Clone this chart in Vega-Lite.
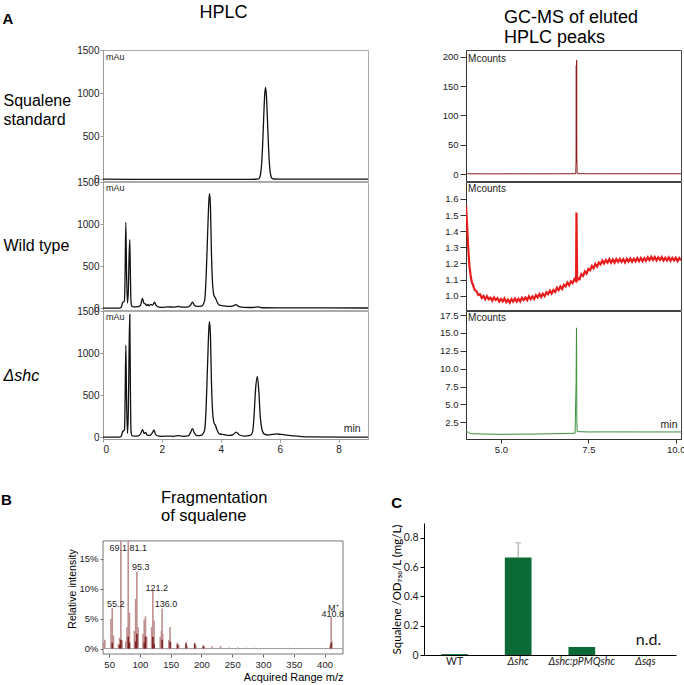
{
  "$schema": "https://vega.github.io/schema/vega-lite/v6.json",
  "padding": {"left": 0, "top": 3, "right": 2, "bottom": 2},
  "background": "white",
  "columns": 1,
  "align": "none",
  "spacing": 34,
  "datasets": {
    "std": [{"t":0,"v":0},{"t":1,"v":-2},{"t":2,"v":-2},{"t":3,"v":-3},{"t":4,"v":-3},{"t":5,"v":-2},{"t":5.26,"v":-1},{"t":5.3,"v":8},{"t":5.34,"v":39},{"t":5.38,"v":144},{"t":5.42,"v":384},{"t":5.46,"v":737},{"t":5.49,"v":972},{"t":5.52,"v":1065},{"t":5.55,"v":972},{"t":5.58,"v":737},{"t":5.62,"v":384},{"t":5.66,"v":144},{"t":5.7,"v":39},{"t":5.74,"v":8},{"t":5.78,"v":1},{"t":6,"v":0},{"t":7,"v":0},{"t":9,"v":0}],
    "wt": [{"t":0,"v":0},{"t":0.55,"v":0},{"t":0.62,"v":10},{"t":0.66,"v":60},{"t":0.7,"v":80},{"t":0.73,"v":85},{"t":0.75,"v":400},{"t":0.775,"v":1020},{"t":0.8,"v":420},{"t":0.83,"v":60},{"t":0.86,"v":200},{"t":0.885,"v":600},{"t":0.91,"v":815},{"t":0.93,"v":400},{"t":0.95,"v":80},{"t":0.98,"v":20},{"t":1.05,"v":15},{"t":1.2,"v":18},{"t":1.28,"v":40},{"t":1.34,"v":115},{"t":1.39,"v":60},{"t":1.44,"v":50},{"t":1.48,"v":30},{"t":1.52,"v":45},{"t":1.56,"v":28},{"t":1.62,"v":45},{"t":1.68,"v":35},{"t":1.75,"v":70},{"t":1.8,"v":35},{"t":1.9,"v":12},{"t":2,"v":10},{"t":2.2,"v":15},{"t":2.4,"v":12},{"t":2.55,"v":20},{"t":2.7,"v":12},{"t":2.9,"v":15},{"t":2.98,"v":40},{"t":3.04,"v":70},{"t":3.1,"v":35},{"t":3.2,"v":20},{"t":3.35,"v":25},{"t":3.45,"v":90},{"t":3.5,"v":350},{"t":3.55,"v":850},{"t":3.6,"v":1300},{"t":3.62,"v":1360},{"t":3.65,"v":1200},{"t":3.68,"v":700},{"t":3.72,"v":300},{"t":3.77,"v":150},{"t":3.82,"v":120},{"t":3.88,"v":70},{"t":3.95,"v":35},{"t":4.1,"v":28},{"t":4.3,"v":20},{"t":4.4,"v":25},{"t":4.52,"v":42},{"t":4.6,"v":22},{"t":4.8,"v":10},{"t":5.1,"v":8},{"t":5.27,"v":15},{"t":5.4,"v":5},{"t":6,"v":3},{"t":9,"v":2}],
    "shc": [{"t":0,"v":0},{"t":0.55,"v":0},{"t":0.62,"v":10},{"t":0.66,"v":60},{"t":0.7,"v":75},{"t":0.73,"v":85},{"t":0.75,"v":420},{"t":0.775,"v":1094},{"t":0.8,"v":450},{"t":0.83,"v":45},{"t":0.86,"v":300},{"t":0.885,"v":1000},{"t":0.91,"v":1459},{"t":0.93,"v":600},{"t":0.95,"v":80},{"t":0.98,"v":20},{"t":1.05,"v":12},{"t":1.2,"v":15},{"t":1.28,"v":40},{"t":1.34,"v":89},{"t":1.4,"v":45},{"t":1.45,"v":55},{"t":1.5,"v":25},{"t":1.6,"v":20},{"t":1.68,"v":55},{"t":1.73,"v":85},{"t":1.79,"v":30},{"t":1.9,"v":12},{"t":2,"v":10},{"t":2.2,"v":12},{"t":2.4,"v":10},{"t":2.58,"v":18},{"t":2.7,"v":10},{"t":2.9,"v":15},{"t":2.98,"v":60},{"t":3.04,"v":102},{"t":3.1,"v":50},{"t":3.2,"v":18},{"t":3.35,"v":25},{"t":3.45,"v":80},{"t":3.5,"v":330},{"t":3.55,"v":850},{"t":3.6,"v":1320},{"t":3.62,"v":1374},{"t":3.65,"v":1200},{"t":3.68,"v":700},{"t":3.72,"v":320},{"t":3.77,"v":170},{"t":3.82,"v":140},{"t":3.88,"v":80},{"t":3.95,"v":40},{"t":4.1,"v":30},{"t":4.3,"v":20},{"t":4.42,"v":30},{"t":4.53,"v":60},{"t":4.62,"v":28},{"t":4.8,"v":12},{"t":5,"v":20},{"t":5.08,"v":60},{"t":5.13,"v":250},{"t":5.18,"v":560},{"t":5.24,"v":721},{"t":5.29,"v":560},{"t":5.34,"v":250},{"t":5.4,"v":90},{"t":5.48,"v":35},{"t":5.6,"v":25},{"t":5.75,"v":32},{"t":5.9,"v":38},{"t":6.05,"v":32},{"t":6.3,"v":22},{"t":6.6,"v":12},{"t":7,"v":3},{"t":9,"v":0}],
    "gc1": [{"t":4.0,"v":1.5},{"t":4.05,"v":0.6},{"t":4.1,"v":0.4},{"t":4.5,"v":0.3},{"t":5.0,"v":0.3},{"t":5.5,"v":0.4},{"t":6.0,"v":0.3},{"t":6.5,"v":0.4},{"t":7.0,"v":0.5},{"t":7.14,"v":0.6},{"t":7.15,"v":25},{"t":7.155,"v":185},{"t":7.16,"v":20},{"t":7.165,"v":194},{"t":7.17,"v":30},{"t":7.18,"v":1.5},{"t":7.2,"v":0.6},{"t":7.5,"v":0.5},{"t":8.0,"v":0.5},{"t":9.0,"v":0.5},{"t":10.15,"v":0.5}],
    "gc2": [{"t":4.0,"v":1.56},{"t":4.02,"v":1.48},{"t":4.04,"v":1.4},{"t":4.06,"v":1.31},{"t":4.08,"v":1.24},{"t":4.1,"v":1.18},{"t":4.13,"v":1.13},{"t":4.16,"v":1.09},{"t":4.2,"v":1.065},{"t":4.25,"v":1.035},{"t":4.3,"v":1.028},{"t":4.35,"v":1.005},{"t":4.4,"v":1.008},{"t":4.45,"v":0.985},{"t":4.5,"v":0.998},{"t":4.55,"v":0.978},{"t":4.6,"v":0.997},{"t":4.65,"v":0.978},{"t":4.7,"v":0.987},{"t":4.75,"v":0.968},{"t":4.8,"v":0.989},{"t":4.85,"v":0.973},{"t":4.9,"v":0.985},{"t":4.95,"v":0.963},{"t":5.0,"v":0.98},{"t":5.05,"v":0.964},{"t":5.1,"v":0.983},{"t":5.15,"v":0.96},{"t":5.2,"v":0.976},{"t":5.25,"v":0.957},{"t":5.3,"v":0.978},{"t":5.35,"v":0.963},{"t":5.4,"v":0.982},{"t":5.45,"v":0.963},{"t":5.5,"v":0.981},{"t":5.55,"v":0.964},{"t":5.6,"v":0.986},{"t":5.65,"v":0.972},{"t":5.7,"v":0.989},{"t":5.75,"v":0.972},{"t":5.8,"v":0.996},{"t":5.85,"v":0.978},{"t":5.9,"v":0.995},{"t":5.95,"v":0.979},{"t":6.0,"v":1.003},{"t":6.05,"v":0.989},{"t":6.1,"v":1.01},{"t":6.15,"v":0.992},{"t":6.2,"v":1.012},{"t":6.25,"v":0.997},{"t":6.3,"v":1.021},{"t":6.35,"v":1.009},{"t":6.4,"v":1.03},{"t":6.45,"v":1.013},{"t":6.5,"v":1.035},{"t":6.55,"v":1.023},{"t":6.6,"v":1.049},{"t":6.65,"v":1.034},{"t":6.7,"v":1.057},{"t":6.75,"v":1.041},{"t":6.8,"v":1.067},{"t":6.85,"v":1.057},{"t":6.9,"v":1.081},{"t":6.95,"v":1.065},{"t":7.0,"v":1.089},{"t":7.05,"v":1.078},{"t":7.1,"v":1.103},{"t":7.14,"v":1.092},{"t":7.15,"v":1.12},{"t":7.16,"v":1.515},{"t":7.17,"v":1.3},{"t":7.18,"v":1.09},{"t":7.2,"v":1.108},{"t":7.25,"v":1.102},{"t":7.3,"v":1.133},{"t":7.35,"v":1.123},{"t":7.4,"v":1.15},{"t":7.45,"v":1.137},{"t":7.5,"v":1.166},{"t":7.55,"v":1.158},{"t":7.6,"v":1.184},{"t":7.65,"v":1.17},{"t":7.7,"v":1.196},{"t":7.75,"v":1.181},{"t":7.8,"v":1.206},{"t":7.85,"v":1.194},{"t":7.9,"v":1.218},{"t":7.95,"v":1.2},{"t":8.0,"v":1.221},{"t":8.05,"v":1.205},{"t":8.1,"v":1.226},{"t":8.15,"v":1.205},{"t":8.2,"v":1.224},{"t":8.25,"v":1.205},{"t":8.3,"v":1.227},{"t":8.35,"v":1.21},{"t":8.4,"v":1.228},{"t":8.45,"v":1.209},{"t":8.5,"v":1.226},{"t":8.55,"v":1.206},{"t":8.6,"v":1.229},{"t":8.65,"v":1.211},{"t":8.7,"v":1.23},{"t":8.75,"v":1.21},{"t":8.8,"v":1.229},{"t":8.85,"v":1.213},{"t":8.9,"v":1.233},{"t":8.95,"v":1.213},{"t":9.0,"v":1.233},{"t":9.05,"v":1.213},{"t":9.1,"v":1.233},{"t":9.15,"v":1.216},{"t":9.2,"v":1.238},{"t":9.25,"v":1.22},{"t":9.3,"v":1.241},{"t":9.35,"v":1.221},{"t":9.4,"v":1.24},{"t":9.45,"v":1.219},{"t":9.5,"v":1.238},{"t":9.55,"v":1.221},{"t":9.6,"v":1.239},{"t":9.65,"v":1.218},{"t":9.7,"v":1.235},{"t":9.75,"v":1.218},{"t":9.8,"v":1.238},{"t":9.85,"v":1.216},{"t":9.9,"v":1.235},{"t":9.95,"v":1.218},{"t":10.0,"v":1.235},{"t":10.05,"v":1.214},{"t":10.1,"v":1.233},{"t":10.15,"v":1.219}],
    "gc3": [{"t":4.0,"v":1.45},{"t":4.03,"v":1.2},{"t":4.07,"v":1.05},{"t":4.12,"v":0.95},{"t":4.2,"v":0.9},{"t":4.5,"v":0.86},{"t":5.0,"v":0.82},{"t":5.5,"v":0.84},{"t":6.0,"v":0.86},{"t":6.5,"v":0.9},{"t":7.0,"v":0.95},{"t":7.12,"v":0.97},{"t":7.15,"v":8.2},{"t":7.155,"v":12.3},{"t":7.16,"v":15.7},{"t":7.165,"v":12.3},{"t":7.17,"v":3},{"t":7.18,"v":1.2},{"t":7.5,"v":1.15},{"t":8.0,"v":1.16},{"t":9.0,"v":1.15},{"t":10.15,"v":1.15}],
    "ms": [{"mz":41,"p":1.0,"s":"light"},{"mz":43,"p":1.5,"s":"light"},{"mz":53,"p":5.0,"s":"light"},{"mz":55,"p":6.8,"s":"light"},{"mz":57,"p":2.2,"s":"light"},{"mz":65,"p":0.8,"s":"light"},{"mz":67,"p":1.8,"s":"light"},{"mz":69,"p":18,"s":"light"},{"mz":71,"p":1.4,"s":"light"},{"mz":77,"p":1.2,"s":"light"},{"mz":79,"p":3.6,"s":"light"},{"mz":81,"p":18,"s":"light"},{"mz":82,"p":6.0,"s":"light"},{"mz":83,"p":6.0,"s":"light"},{"mz":91,"p":3.0,"s":"light"},{"mz":93,"p":8.3,"s":"light"},{"mz":95,"p":12.8,"s":"light"},{"mz":96,"p":2.5,"s":"light"},{"mz":97,"p":3.6,"s":"light"},{"mz":105,"p":2.5,"s":"light"},{"mz":107,"p":4.8,"s":"light"},{"mz":109,"p":5.4,"s":"light"},{"mz":111,"p":2.0,"s":"light"},{"mz":119,"p":3.6,"s":"light"},{"mz":121,"p":9.7,"s":"light"},{"mz":122,"p":2.0,"s":"light"},{"mz":123,"p":4.7,"s":"light"},{"mz":133,"p":2.0,"s":"light"},{"mz":135,"p":3.0,"s":"light"},{"mz":136,"p":6.7,"s":"light"},{"mz":137,"p":2.5,"s":"light"},{"mz":147,"p":1.5,"s":"light"},{"mz":149,"p":3.6,"s":"light"},{"mz":150,"p":1.0,"s":"light"},{"mz":161,"p":1.0,"s":"light"},{"mz":163,"p":0.6,"s":"light"},{"mz":175,"p":1.1,"s":"light"},{"mz":177,"p":0.4,"s":"light"},{"mz":189,"p":1.0,"s":"light"},{"mz":191,"p":0.5,"s":"light"},{"mz":203,"p":0.6,"s":"light"},{"mz":205,"p":0.3,"s":"light"},{"mz":217,"p":0.4,"s":"light"},{"mz":231,"p":0.4,"s":"light"},{"mz":245,"p":0.2,"s":"light"},{"mz":259,"p":0.2,"s":"light"},{"mz":273,"p":0.15,"s":"light"},{"mz":287,"p":0.15,"s":"light"},{"mz":301,"p":0.1,"s":"light"},{"mz":313,"p":0.12,"s":"light"},{"mz":327,"p":0.1,"s":"light"},{"mz":341,"p":0.15,"s":"light"},{"mz":355,"p":0.1,"s":"light"},{"mz":367,"p":0.1,"s":"light"},{"mz":381,"p":0.1,"s":"light"},{"mz":395,"p":0.1,"s":"light"},{"mz":409,"p":0.5,"s":"light"},{"mz":410.8,"p":5.3,"s":"light"},{"mz":411.8,"p":1.3,"s":"light"},{"mz":55,"p":1.0,"s":"dark"},{"mz":67,"p":0.6,"s":"dark"},{"mz":69,"p":1.5,"s":"dark"},{"mz":81,"p":2.0,"s":"dark"},{"mz":83,"p":1.0,"s":"dark"},{"mz":93,"p":1.2,"s":"dark"},{"mz":95,"p":2.5,"s":"dark"},{"mz":107,"p":1.0,"s":"dark"},{"mz":109,"p":2.0,"s":"dark"},{"mz":121,"p":2.0,"s":"dark"},{"mz":123,"p":0.8,"s":"dark"},{"mz":136,"p":1.5,"s":"dark"},{"mz":149,"p":1.2,"s":"dark"},{"mz":161,"p":0.7,"s":"dark"},{"mz":175,"p":0.8,"s":"dark"},{"mz":189,"p":0.8,"s":"dark"},{"mz":203,"p":0.4,"s":"dark"},{"mz":410.8,"p":1.0,"s":"dark"}],
    "mslab": [{"mz":64.9,"p":16.9,"label":"69.1"},{"mz":97.4,"p":16.9,"label":"81.1"},{"mz":101.4,"p":13.6,"label":"95.3"},{"mz":127.3,"p":10.2,"label":"121.2"},{"mz":142.4,"p":7.4,"label":"136.0"},{"mz":60.6,"p":7.4,"label":"55.2"},{"mz":414.2,"p":6.8,"label":"M⁺"},{"mz":413.5,"p":5.8,"label":"410.8"}],
    "frame": [{"x1": 40, "x2": 430, "y1": -0.9, "y2": 18}],
    "bars": [{"g":"WT","v":0.006},{"g":"Δshc","v":0.665},{"g":"Δshc:pPMQshc","v":0.055},{"g":"Δsqs","v":0}],
    "err": [{"g":"Δshc","lo":0.665,"hi":0.765}],
    "nd": [{"g":"Δsqs","v":0.068,"label":"n.d."}]
  },
  "concat": [
    {
      "title": {"text": "A", "anchor": "start", "fontSize": 15, "fontWeight": "bold", "baseline": "alphabetic", "offset": -17, "dy": 18},
      "spacing": 70,
      "hconcat": [
        {
          "title": {"text": ["HPLC", " "], "anchor": "start", "dx": 197, "fontSize": 18, "lineHeight": 20, "baseline": "alphabetic", "offset": -11},
          "spacing": 1,
          "bounds": "flush",
          "vconcat": [
            {
              "width": 265, "height": 131,
              "view": {"stroke": "#aaa"},
              "layer": [
                {"data": {"name": "std"},
                 "mark": {"type": "line", "color": "#111", "strokeWidth": 1.3, "interpolate": "monotone", "clip": true},
                 "encoding": {
                   "x": {"field": "t", "type": "quantitative", "scale": {"domain": [0, 9], "nice": false, "zero": false}, "axis": null},
                   "y": {"field": "v", "type": "quantitative", "scale": {"domain": [-22, 1500], "nice": false}, "axis": {"values": [0, 500, 1000, 1500], "tickCount": 20, "format": "d", "labelOverlap": false, "labelFontSize": 10, "tickSize": 3, "labelPadding": 1, "domainColor": "#999", "tickColor": "#999", "title": ["Squalene", "standard"], "titleAngle": 0, "titleAlign": "left", "titleBaseline": "middle", "titleX": -100, "titleY": 50, "titleFontSize": 16, "titleLineHeight": 19}}
                 }},
                {"data": {"values": [{"t": 0.1, "v": 1500, "label": "mAu"}]},
                 "mark": {"type": "text", "align": "left", "baseline": "top", "dy": 3, "fontSize": 9, "color": "#222"},
                 "encoding": {"x": {"field": "t", "type": "quantitative"}, "y": {"field": "v", "type": "quantitative"}, "text": {"field": "label"}}}
              ]
            },
            {
              "width": 265, "height": 128,
              "view": {"stroke": "#aaa"},
              "layer": [
                {"data": {"name": "wt"},
                 "mark": {"type": "line", "color": "#111", "strokeWidth": 1.3, "interpolate": "monotone", "clip": true},
                 "encoding": {
                   "x": {"field": "t", "type": "quantitative", "scale": {"domain": [0, 9], "nice": false, "zero": false}, "axis": null},
                   "y": {"field": "v", "type": "quantitative", "scale": {"domain": [-22, 1500], "nice": false}, "axis": {"values": [0, 500, 1000, 1500], "tickCount": 20, "format": "d", "labelOverlap": false, "labelFontSize": 10, "tickSize": 3, "labelPadding": 1, "domainColor": "#999", "tickColor": "#999", "title": "Wild type", "titleAngle": 0, "titleAlign": "left", "titleBaseline": "middle", "titleX": -100, "titleY": 63, "titleFontSize": 16}}
                 }},
                {"data": {"values": [{"t": 0.1, "v": 1500, "label": "mAu"}]},
                 "mark": {"type": "text", "align": "left", "baseline": "top", "dy": 2, "fontSize": 9, "color": "#222"},
                 "encoding": {"x": {"field": "t", "type": "quantitative"}, "y": {"field": "v", "type": "quantitative"}, "text": {"field": "label"}}}
              ]
            },
            {
              "width": 265, "height": 128,
              "view": {"stroke": "#aaa"},
              "layer": [
                {"data": {"name": "shc"},
                 "mark": {"type": "line", "color": "#111", "strokeWidth": 1.3, "interpolate": "monotone", "clip": true},
                 "encoding": {
                   "x": {"field": "t", "type": "quantitative", "scale": {"domain": [0, 9], "nice": false, "zero": false}, "axis": {"values": [0, 2, 4, 6, 8], "tickCount": 20, "format": "d", "labelOverlap": false, "labelFontSize": 10, "tickSize": 3, "labelPadding": 2, "domainColor": "#999", "tickColor": "#999", "title": null}},
                   "y": {"field": "v", "type": "quantitative", "scale": {"domain": [-22, 1500], "nice": false}, "axis": {"values": [0, 500, 1000, 1500], "tickCount": 20, "format": "d", "labelOverlap": false, "labelFontSize": 10, "tickSize": 3, "labelPadding": 1, "domainColor": "#999", "tickColor": "#999", "title": "Δshc", "titleFontStyle": "italic", "titleAngle": 0, "titleAlign": "left", "titleBaseline": "middle", "titleX": -100, "titleY": 64, "titleFontSize": 16}}
                 }},
                {"data": {"values": [{"t": 0.1, "v": 1500, "label": "mAu"}]},
                 "mark": {"type": "text", "align": "left", "baseline": "top", "dy": 2, "fontSize": 9, "color": "#222"},
                 "encoding": {"x": {"field": "t", "type": "quantitative"}, "y": {"field": "v", "type": "quantitative"}, "text": {"field": "label"}}},
                {"data": {"values": [{"t": 8.75, "v": 60, "label": "min"}]},
                 "mark": {"type": "text", "align": "right", "baseline": "alphabetic", "fontSize": 10.5, "color": "#222"},
                 "encoding": {"x": {"field": "t", "type": "quantitative"}, "y": {"field": "v", "type": "quantitative"}, "text": {"field": "label"}}}
              ]
            }
          ]
        },
        {
          "title": {"text": ["GC-MS of eluted", "HPLC peaks"], "anchor": "start", "dx": 65, "fontSize": 18, "lineHeight": 20, "baseline": "alphabetic", "offset": -11},
          "spacing": 1,
          "bounds": "flush",
          "vconcat": [
            {
              "width": 215, "height": 131,
              "view": {"stroke": "#444"},
              "layer": [
                {"data": {"name": "gc1"},
                 "mark": {"type": "line", "color": "#8b1a1a", "strokeWidth": 1, "clip": true},
                 "encoding": {
                   "x": {"field": "t", "type": "quantitative", "scale": {"domain": [4.0, 10.15], "nice": false, "zero": false}, "axis": null},
                   "y": {"field": "v", "type": "quantitative", "scale": {"domain": [-11.9, 211.4], "nice": false}, "axis": {"values": [0, 50, 100, 150, 200], "tickCount": 20, "format": "d", "labelOverlap": false, "labelFontSize": 9.5, "tickSize": 6, "labelPadding": 2, "domainColor": "#333", "tickColor": "#333", "title": null}}
                 }},
                {"data": {"values": [{"t": 4.06, "v": 211.4, "label": "Mcounts"}]},
                 "mark": {"type": "text", "align": "left", "baseline": "top", "dy": 4, "fontSize": 10, "color": "#222"},
                 "encoding": {"x": {"field": "t", "type": "quantitative"}, "y": {"field": "v", "type": "quantitative"}, "text": {"field": "label"}}}
              ]
            },
            {
              "width": 215, "height": 128,
              "view": {"stroke": "#444"},
              "layer": [
                {"data": {"name": "gc2"},
                 "mark": {"type": "line", "color": "#e81c1c", "strokeWidth": 2.2, "clip": true},
                 "encoding": {
                   "x": {"field": "t", "type": "quantitative", "scale": {"domain": [4.0, 10.15], "nice": false, "zero": false}, "axis": null},
                   "y": {"field": "v", "type": "quantitative", "scale": {"domain": [0.911, 1.705], "nice": false, "zero": false}, "axis": {"values": [1.0, 1.1, 1.2, 1.3, 1.4, 1.5, 1.6], "tickCount": 20, "format": ".1f", "labelOverlap": false, "labelFontSize": 9.5, "tickSize": 6, "labelPadding": 2, "domainColor": "#333", "tickColor": "#333", "title": null}}
                 }},
                {"data": {"values": [{"t": 4.06, "v": 1.705, "label": "Mcounts"}]},
                 "mark": {"type": "text", "align": "left", "baseline": "top", "dy": 2, "fontSize": 10, "color": "#222"},
                 "encoding": {"x": {"field": "t", "type": "quantitative"}, "y": {"field": "v", "type": "quantitative"}, "text": {"field": "label"}}}
              ]
            },
            {
              "width": 215, "height": 128,
              "view": {"stroke": "#444"},
              "layer": [
                {"data": {"name": "gc3"},
                 "mark": {"type": "line", "color": "#3a8f3a", "strokeWidth": 1, "clip": true},
                 "encoding": {
                   "x": {"field": "t", "type": "quantitative", "scale": {"domain": [4.0, 10.15], "nice": false, "zero": false}, "axis": {"values": [5, 7.5, 10], "tickCount": 20, "format": ".1f", "labelOverlap": false, "labelFontSize": 9.5, "tickSize": 4, "labelPadding": 1, "domainColor": "#333", "tickColor": "#333", "title": null}},
                   "y": {"field": "v", "type": "quantitative", "scale": {"domain": [0.165, 18.06], "nice": false, "zero": false}, "axis": {"values": [2.5, 5, 7.5, 10, 12.5, 15, 17.5], "tickCount": 20, "format": ".1f", "labelOverlap": false, "labelFontSize": 9.5, "tickSize": 6, "labelPadding": 2, "domainColor": "#333", "tickColor": "#333", "title": null}}
                 }},
                {"data": {"values": [{"t": 4.06, "v": 18.06, "label": "Mcounts"}]},
                 "mark": {"type": "text", "align": "left", "baseline": "top", "dy": 2, "fontSize": 10, "color": "#222"},
                 "encoding": {"x": {"field": "t", "type": "quantitative"}, "y": {"field": "v", "type": "quantitative"}, "text": {"field": "label"}}},
                {"data": {"values": [{"t": 10.05, "v": 1.66, "label": "min"}]},
                 "mark": {"type": "text", "align": "right", "baseline": "alphabetic", "fontSize": 10.5, "color": "#222"},
                 "encoding": {"x": {"field": "t", "type": "quantitative"}, "y": {"field": "v", "type": "quantitative"}, "text": {"field": "label"}}}
              ]
            }
          ]
        }
      ]
    },
    {
      "title": {"text": "B", "anchor": "start", "fontSize": 15, "fontWeight": "bold", "baseline": "alphabetic", "offset": -15, "dx": -67, "dy": 15},
      "columns": 2,
      "align": "none",
      "spacing": 46,
      "concat": [
        {
          "width": 240, "height": 131,
          "view": {"stroke": null},
          "title": {"text": ["Fragmentation", "of squalene"], "anchor": "start", "dx": 93, "fontSize": 16.5, "lineHeight": 18, "baseline": "alphabetic", "offset": -14},
          "layer": [
            {"data": {"name": "frame"},
             "mark": {"type": "rect", "fillOpacity": 0, "fill": "white", "stroke": "#777", "strokeWidth": 1},
             "encoding": {"x": {"field": "x1", "type": "quantitative"}, "x2": {"field": "x2"}, "y": {"field": "y1", "type": "quantitative"}, "y2": {"field": "y2"}}},
            {"data": {"values": [{"p": 0}]},
             "mark": {"type": "rule", "color": "#999", "strokeWidth": 1},
             "encoding": {"y": {"field": "p", "type": "quantitative"}}},
            {"data": {"name": "ms"},
             "mark": {"type": "rule", "strokeWidth": 1.6, "clip": true},
             "encoding": {
               "x": {"field": "mz", "type": "quantitative", "scale": {"domain": [40, 430], "nice": false, "zero": false}, "axis": {"values": [50, 100, 150, 200, 250, 300, 350, 400], "tickCount": 20, "format": "d", "labelOverlap": false, "labelFontSize": 9.5, "tickSize": 3, "labelPadding": 2, "domain": false, "tickColor": "#666", "title": "Acquired Range  m/z", "titleAnchor": "end", "titleFontSize": 11, "titlePadding": 3}},
               "y": {"field": "p", "type": "quantitative", "scale": {"domain": [-0.9, 21], "nice": false, "zero": false}, "axis": {"values": [0, 5, 10, 15], "tickCount": 20, "labelExpr": "datum.value + '%'", "labelOverlap": false, "labelFontSize": 9.5, "tickSize": 3, "labelPadding": 2, "domain": false, "tickColor": "#666", "title": "Relative intensity", "titleFontSize": 10.5, "titlePadding": 1}},
               "y2": {"datum": 0},
               "color": {"field": "s", "type": "nominal", "scale": {"domain": ["light", "dark"], "range": ["#c09090", "#7d2222"]}, "legend": null}
             }},
            {"data": {"name": "mslab"},
             "mark": {"type": "text", "fontSize": 9, "color": "#222", "baseline": "middle", "align": "center"},
             "encoding": {
               "x": {"field": "mz", "type": "quantitative"},
               "y": {"field": "p", "type": "quantitative"},
               "text": {"field": "label"}
             }}
          ]
        },
        {
          "width": 252, "height": 132,
          "view": {"stroke": null},
          "title": {"text": "C", "anchor": "start", "fontSize": 15, "fontWeight": "bold", "baseline": "alphabetic", "offset": 0},
          "layer": [
            {"data": {"name": "err"},
             "mark": {"type": "rule", "color": "#999", "strokeWidth": 1},
             "encoding": {
               "x": {"field": "g", "type": "nominal"},
               "y": {"field": "lo", "type": "quantitative"},
               "y2": {"field": "hi"}
             }},
            {"data": {"name": "err"},
             "mark": {"type": "tick", "color": "#999", "size": 6, "thickness": 1},
             "encoding": {
               "x": {"field": "g", "type": "nominal"},
               "y": {"field": "hi", "type": "quantitative"}
             }},
            {"data": {"name": "bars"},
             "mark": {"type": "bar", "color": "#0c6a36"},
             "encoding": {
               "x": {"field": "g", "type": "nominal", "sort": null, "scale": {"domain": ["WT", "Δshc", "Δshc:pPMQshc", "Δsqs"], "paddingInner": 0.58, "paddingOuter": 0.27},
                     "axis": {"title": null, "labelAngle": 0, "labelAlign": "center", "labelFont": "Lato", "labelFontSize": 10.5, "labelColor": "#222", "ticks": false, "labelPadding": 6, "domainColor": "#000", "labelOverlap": false,
                              "labelFontStyle": {"condition": {"test": "datum.value === 'WT'", "value": "normal"}, "value": "italic"}}},
               "y": {"field": "v", "type": "quantitative", "scale": {"domain": [0, 0.9], "nice": false},
                     "axis": {"values": [0, 0.2, 0.4, 0.6, 0.8], "tickCount": 20, "format": "~g", "labelOverlap": false, "labelFont": "Lato", "labelFontSize": 10.5, "labelColor": "#222", "tickSize": 4, "labelPadding": 2, "domainColor": "#000", "tickColor": "#000", "title": "Squalene /OD₇₅₀/L (mg/L)", "titleFont": "Lato", "titleFontSize": 11.5, "titlePadding": 1}}
             }},
            {"data": {"name": "nd"},
             "mark": {"type": "text", "font": "Lato", "fontSize": 16, "color": "#111", "baseline": "alphabetic", "dx": 3},
             "encoding": {
               "x": {"field": "g", "type": "nominal"},
               "y": {"field": "v", "type": "quantitative"},
               "text": {"field": "label"}
             }}
          ]
        }
      ]
    }
  ],
  "config": {
    "font": "Liberation Sans",
    "axis": {"grid": false, "labelColor": "#222", "titleColor": "#000", "titleFontWeight": "normal", "domainColor": "#888", "tickColor": "#888"},
    "title": {"fontWeight": "normal", "color": "#000"}
  }
}
